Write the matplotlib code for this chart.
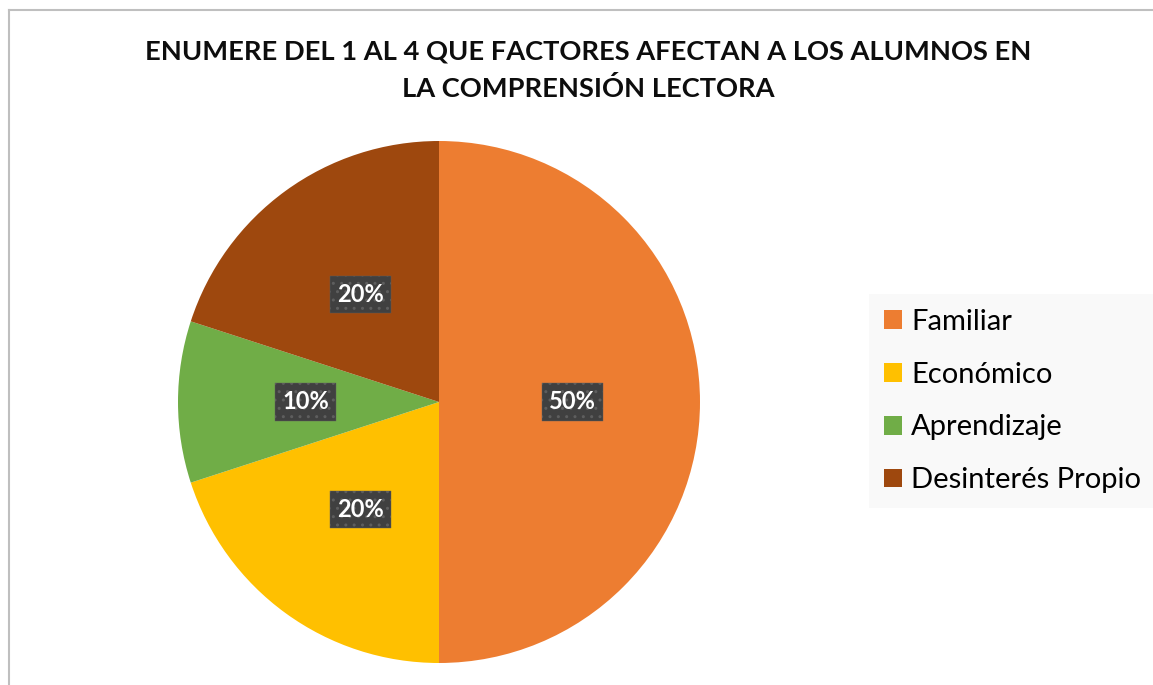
import matplotlib
matplotlib.use("Agg")
import matplotlib.pyplot as plt
from matplotlib.lines import Line2D

categories = ['Familiar', 'Económico', 'Aprendizaje', 'Desinterés Propio']
values = [50, 20, 10, 20]
colors = ['#ED7D31', '#FFC000', '#70AD47', '#9E480E']
title = 'ENUMERE DEL 1 AL 4 QUE FACTORES AFECTAN A LOS ALUMNOS EN\nLA COMPRENSIÓN LECTORA'

plt.rcParams['font.family'] = ['Lato', 'DejaVu Sans']

W, H = 1153, 685
fig = plt.figure(figsize=(W / 100, H / 100), dpi=100)

# chart border (top and left visible)
fig.add_artist(Line2D([9 / W, 9 / W], [0, 1 - 10 / H], color='#BFBFBF', lw=1.5))
fig.add_artist(Line2D([9 / W, 1], [1 - 10 / H, 1 - 10 / H], color='#BFBFBF', lw=1.5))

# pie: center (439, 402), radius 261 px
cx, cy, r = 439, 402, 261
ax = fig.add_axes([(cx - r) / W, (H - cy - r) / H, 2 * r / W, 2 * r / H])
wedges, texts = ax.pie(values, colors=colors, startangle=90, counterclock=False,
                       labels=[f'{v}%' for v in values], labeldistance=0.51,
                       wedgeprops=dict(linewidth=0))
for t in texts:
    t.set_ha('center')
    t.set_va('center')
    t.set_color('white')
    t.set_fontweight('bold')
    t.set_fontsize(17)
    t.set_bbox(dict(boxstyle='square,pad=0.3', facecolor='#404040',
                    edgecolor='#5E5E5E', linewidth=0.3, hatch='..'))
ax.set_xlim(-1, 1)
ax.set_ylim(-1, 1)
ax.set_aspect('auto')
ax.axis('off')

fig.text(588 / W, 1 - 70 / H, title, ha='center', va='center',
         fontsize=19.6, fontweight='bold', linespacing=1.58, color='#0D0D0D')

leg = fig.legend(wedges, categories, loc='center left',
                 bbox_to_anchor=(869 / W, 1 - 401 / H), borderaxespad=0,
                 frameon=True, fontsize=21, handlelength=0.62, handleheight=0.62,
                 handletextpad=0.33, labelspacing=0.92, borderpad=0.5,
                 fancybox=False)
leg.get_frame().set_facecolor('#F8F8F8')
leg.get_frame().set_edgecolor('none')

fig.savefig('out.png', dpi=100, facecolor='white')
